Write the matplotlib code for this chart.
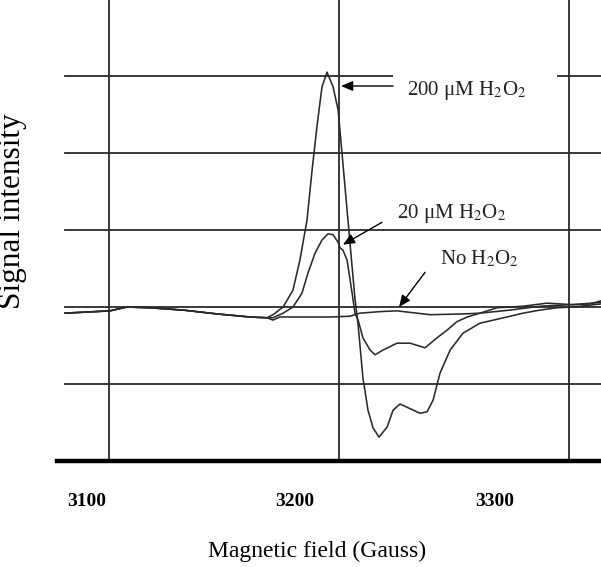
"""
EPR spectra: signal intensity vs magnetic field for three H2O2 levels.
"""
import matplotlib
matplotlib.use("Agg")
import matplotlib.pyplot as plt
from matplotlib.patches import Rectangle

plt.rcParams['font.family'] = ['Liberation Serif', 'DejaVu Serif']
plt.rcParams['mathtext.fontset'] = 'stix'

# Shared baseline segment (all three traces overlap here)
base_field = [3080.9, 3100.4, 3107.8, 3117.8, 3132.2, 3147.0, 3161.3, 3168.7]
base_signal = [-0.08, -0.05, 0.00, -0.01, -0.04, -0.09, -0.13, -0.14]

# No H2O2
none_field = [3171.3, 3174.3, 3183.0, 3196.1, 3204.8, 3209.1, 3217.8, 3225.2,
              3239.6, 3253.9, 3261.3, 3274.3, 3287.4, 3300.4, 3309.1, 3313.9]
none_signal = [-0.17, -0.13, -0.13, -0.13, -0.12, -0.08, -0.06, -0.05,
               -0.10, -0.09, -0.08, -0.04, 0.01, 0.03, 0.04, 0.08]

# 20 uM H2O2
low_field = [3171.3, 3175.7, 3180.0, 3183.9, 3186.5, 3189.6, 3192.6, 3195.2,
             3197.4, 3199.6, 3200.4, 3201.7, 3203.5, 3205.7, 3207.0, 3208.3,
             3210.4, 3213.5, 3215.7, 3219.1, 3225.2, 3230.9, 3237.4, 3242.6,
             3247.0, 3251.3, 3255.7, 3261.3, 3268.7, 3280.0, 3290.4, 3301.7,
             3313.9]
low_signal = [-0.14, -0.08, 0.00, 0.18, 0.44, 0.70, 0.87, 0.95,
              0.94, 0.84, 0.77, 0.74, 0.61, 0.18, -0.09, -0.17,
              -0.40, -0.56, -0.62, -0.56, -0.47, -0.47, -0.53, -0.40,
              -0.30, -0.19, -0.13, -0.08, -0.01, 0.01, 0.05, 0.03,
              0.06]

# 200 uM H2O2
high_field = [3171.3, 3175.7, 3180.0, 3183.0, 3186.1, 3188.3, 3190.4, 3192.6,
              3194.8, 3197.4, 3199.6, 3201.3, 3203.5, 3205.7, 3207.0, 3208.3,
              3210.4, 3212.6, 3214.8, 3217.4, 3220.9, 3223.5, 3226.5, 3230.9,
              3235.2, 3238.3, 3240.9, 3243.9, 3248.3, 3253.9, 3261.3, 3273.0,
              3280.0, 3287.4, 3294.8, 3301.7, 3313.9]
high_signal = [-0.10, 0.00, 0.22, 0.61, 1.13, 1.78, 2.34, 2.86,
               3.05, 2.86, 2.56, 2.00, 1.26, 0.52, 0.09, -0.23,
               -0.92, -1.34, -1.57, -1.69, -1.56, -1.34, -1.26, -1.32,
               -1.38, -1.36, -1.21, -0.86, -0.56, -0.34, -0.21, -0.13,
               -0.08, -0.04, -0.01, 0.00, 0.04]

grid_fields = [3100, 3200, 3300]
grid_levels = [-1, 0, 1, 2, 3]
tick_labels = ["3100", "3200", "3300"]
tick_label_pos = [3090.4, 3180.9, 3267.8]  # labels sit left of their gridlines

fig = plt.figure(figsize=(6.01, 5.67), dpi=100)
ax = fig.add_axes([57 / 601, 106 / 567, 544 / 601, 461 / 567])
ax.set_xlim(3077.4, 3313.9)
ax.set_ylim(-2.0, 3.987)

line_c = '#2a2a2a'
for f in grid_fields:
    ax.axvline(f, color=line_c, lw=1.3, zorder=1)
for lv in grid_levels:
    ax.axhline(lv, xmin=8 / 544, color=line_c, lw=1.3, zorder=1)

for fld, sig in [(none_field, none_signal), (low_field, low_signal),
                 (high_field, high_signal)]:
    ax.plot(base_field + fld, base_signal + sig, color=line_c, lw=1.15,
            zorder=2)

# white box that hides the gridline behind the top label
ax.add_patch(Rectangle((3223.5, 2.62), 71.3, 0.48, facecolor='white',
                       edgecolor='none', zorder=3))

arrow = dict(arrowstyle='-|>,head_length=0.7,head_width=0.3',
             color='black', lw=1.0, shrinkA=0, shrinkB=0)
ax.annotate('', xy=(3200.9, 2.87), xytext=(3223.5, 2.87),
            arrowprops=arrow, zorder=4)
ax.annotate('', xy=(3201.7, 0.81), xytext=(3218.7, 1.10),
            arrowprops=arrow, zorder=4)
ax.annotate('', xy=(3226.1, 0.0), xytext=(3237.4, 0.45),
            arrowprops=arrow, zorder=4)

lab_kw = dict(fontsize=15, ha='left', va='baseline', color='#222', zorder=5)
ax.text(3229.6, 2.75, '200 μM H$_2$O$_2$', **lab_kw)
ax.text(3225.2, 1.16, '20 μM H$_2$O$_2$', **lab_kw)
ax.text(3243.9, 0.55, 'No H$_2$O$_2$', **lab_kw)

for s in ['top', 'right', 'left']:
    ax.spines[s].set_visible(False)
ax.spines['bottom'].set_linewidth(3.2)
ax.spines['bottom'].set_color('black')

ax.set_yticks([])
ax.set_xticks(tick_label_pos)
ax.set_xticklabels(tick_labels, fontsize=14, fontweight='bold')
ax.tick_params(axis='x', length=0, pad=23)

fig.text(317 / 601, 1 - 551 / 567, 'Magnetic field (Gauss)', fontsize=17,
         ha='center', va='center')
fig.text(13 / 601, 1 - 211 / 567, 'Signal intensity', fontsize=22.5,
         rotation=90, ha='center', va='center')

fig.savefig('out.png', dpi=100, facecolor='white')
